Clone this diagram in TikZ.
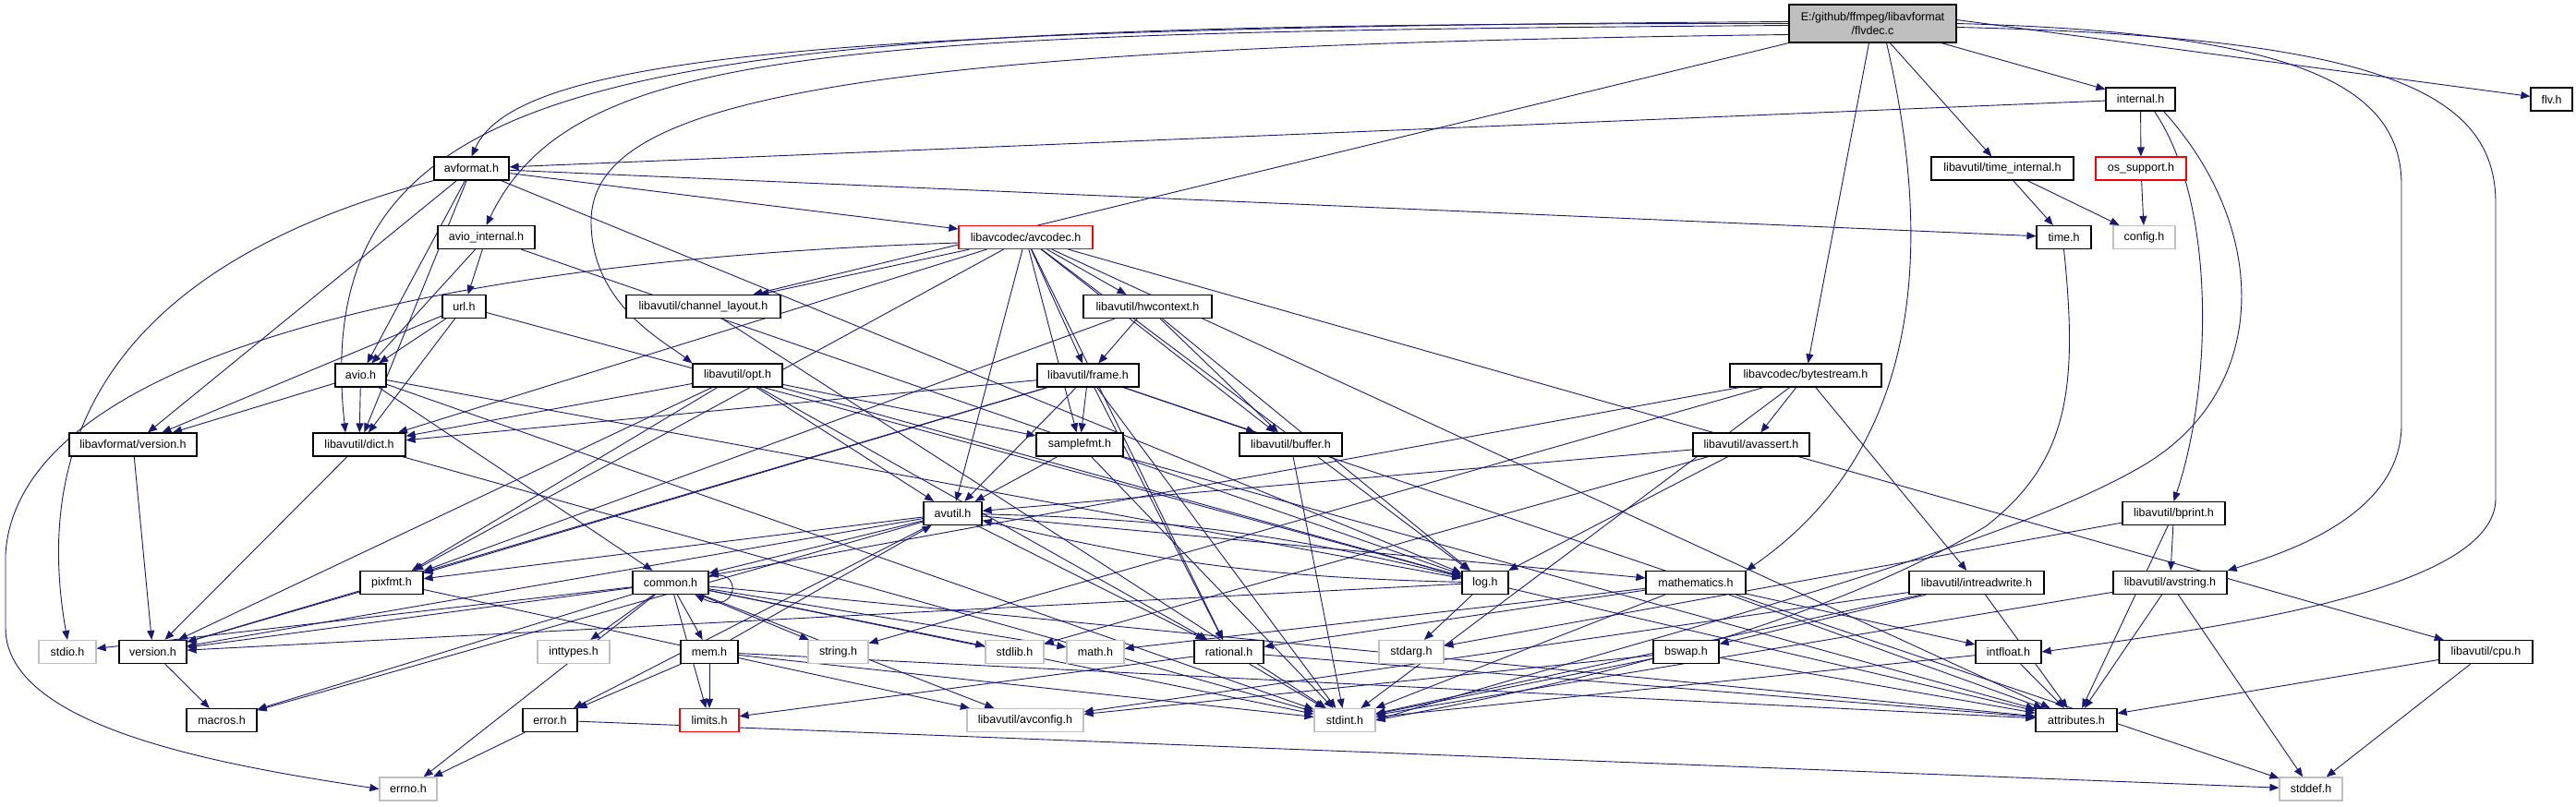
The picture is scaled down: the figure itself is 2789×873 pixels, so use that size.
\documentclass[tikz,border=0pt]{standalone}
\usepackage{fontspec}
\setmainfont{Liberation Sans}
\usetikzlibrary{arrows.meta}
\pgfdeclarelayer{bg}
\pgfdeclarelayer{edges}
\pgfsetlayers{bg,edges,main}
\definecolor{edgec}{HTML}{191970}
\definecolor{sysgrey}{HTML}{BFBFBF}
\definecolor{rootfill}{HTML}{BFBFBF}
\begin{document}
\begin{tikzpicture}[x=1pt,y=1pt,
  hdr/.style={draw=black,line width=1.2pt,fill=white,minimum height=25pt,inner sep=0pt,font=\fontsize{12.5}{15}\selectfont},
  syshdr/.style={hdr,draw=sysgrey},
  trunchdr/.style={hdr,draw=red},
  roothdr/.style={hdr,fill=rootfill,minimum height=41pt,align=center,font=\fontsize{12.5}{15.5}\selectfont},
  dep/.style={draw=edgec,line width=0.9pt,-{Triangle[length=10pt,width=8pt]}}]
\useasboundingbox (0,0) rectangle (2789,-873);
\begin{pgfonlayer}{bg}
\fill[white] (0,0) rectangle (2789,-873);
\end{pgfonlayer}
% nodes
\node[roothdr,minimum width=181pt] (flvdec) at (2027.5,-25.5) {E:/github/ffmpeg/libavformat\\/flvdec.c};
\node[hdr,minimum width=45pt] (flv) at (2762.5,-107.5) {flv.h};
\node[hdr,minimum width=75pt] (internal) at (2317.5,-107.5) {internal.h};
\node[hdr,minimum width=81pt] (avformat) at (510.5,-182.5) {avformat.h};
\node[hdr,minimum width=154pt] (timeint) at (2168,-182.5) {libavutil/time\_internal.h};
\node[trunchdr,minimum width=98pt] (ossup) at (2318,-182.5) {os\_support.h};
\node[hdr,minimum width=105pt] (avioint) at (526.5,-257) {avio\_internal.h};
\node[trunchdr,minimum width=145pt] (avcodec) at (1110.5,-257) {libavcodec/avcodec.h};
\node[hdr,minimum width=59pt] (timeh) at (2234.5,-257) {time.h};
\node[syshdr,minimum width=67pt] (config) at (2321.5,-257) {config.h};
\node[hdr,minimum width=47pt] (url) at (502.5,-332) {url.h};
\node[hdr,minimum width=167pt] (chlayout) at (761.5,-332) {libavutil/channel\_layout.h};
\node[hdr,minimum width=139pt] (hwctx) at (1242.5,-332) {libavutil/hwcontext.h};
\node[hdr,minimum width=55pt] (avio) at (390.5,-406.5) {avio.h};
\node[hdr,minimum width=97pt] (opt) at (798.5,-406.5) {libavutil/opt.h};
\node[hdr,minimum width=110pt] (frame) at (1178,-406.5) {libavutil/frame.h};
\node[hdr,minimum width=164pt] (bytestream) at (1955,-406.5) {libavcodec/bytestream.h};
\node[hdr,minimum width=138pt] (lfversion) at (144,-481.5) {libavformat/version.h};
\node[hdr,minimum width=100pt] (dict) at (389,-481.5) {libavutil/dict.h};
\node[hdr,minimum width=94pt] (samplefmt) at (1169,-481.5) {samplefmt.h};
\node[hdr,minimum width=111pt] (buffer) at (1397.5,-481.5) {libavutil/buffer.h};
\node[hdr,minimum width=126pt] (avassert) at (1896,-481.5) {libavutil/avassert.h};
\node[hdr,minimum width=63pt] (avutil) at (1031.5,-556) {avutil.h};
\node[hdr,minimum width=111pt] (bprint) at (2353.5,-556) {libavutil/bprint.h};
\node[hdr,minimum width=68pt] (pixfmt) at (424,-631) {pixfmt.h};
\node[hdr,minimum width=82pt] (common) at (726,-631) {common.h};
\node[hdr,minimum width=50pt] (log) at (1608,-631) {log.h};
\node[hdr,minimum width=108pt] (mathematics) at (1836,-631) {mathematics.h};
\node[hdr,minimum width=146pt] (intrw) at (2140,-631) {libavutil/intreadwrite.h};
\node[hdr,minimum width=123pt] (avstring) at (2349.5,-631) {libavutil/avstring.h};
\node[syshdr,minimum width=62pt] (stdio) at (73,-706) {stdio.h};
\node[hdr,minimum width=73pt] (version) at (165.5,-706) {version.h};
\node[syshdr,minimum width=78pt] (inttypes) at (621,-706) {inttypes.h};
\node[hdr,minimum width=62pt] (mem) at (768,-706) {mem.h};
\node[syshdr,minimum width=65pt] (stringh) at (907.5,-706) {string.h};
\node[syshdr,minimum width=63pt] (stdlib) at (1098.5,-706) {stdlib.h};
\node[syshdr,minimum width=62pt] (math) at (1186,-706) {math.h};
\node[hdr,minimum width=75pt] (rational) at (1330.5,-706) {rational.h};
\node[syshdr,minimum width=70pt] (stdarg) at (1528,-706) {stdarg.h};
\node[hdr,minimum width=71pt] (bswap) at (1825.5,-706) {bswap.h};
\node[hdr,minimum width=71pt] (intfloat) at (2174.5,-706) {intfloat.h};
\node[hdr,minimum width=101pt] (cpu) at (2691.5,-706) {libavutil/cpu.h};
\node[hdr,minimum width=76pt] (macros) at (240,-780) {macros.h};
\node[hdr,minimum width=59pt] (error) at (595.5,-780) {error.h};
\node[trunchdr,minimum width=64pt] (limits) at (768,-780) {limits.h};
\node[syshdr,minimum width=126pt] (avconfig) at (1110,-780) {libavutil/avconfig.h};
\node[syshdr,minimum width=66pt] (stdint) at (1456,-780) {stdint.h};
\node[hdr,minimum width=88pt] (attributes) at (2248,-780) {attributes.h};
\node[syshdr,minimum width=62pt] (errno) at (442,-854.5) {errno.h};
\node[syshdr,minimum width=68pt] (stddef) at (2502,-854.5) {stddef.h};
% edges
\begin{pgfonlayer}{edges}
\foreach \s/\t in {flvdec/timeint, flvdec/internal, flvdec/bytestream,
 internal/avformat, internal/ossup,
 timeint/timeh, timeint/config, ossup/config,
 avformat/timeh, avformat/avcodec, avformat/dict, avformat/log, avformat/avio, avformat/lfversion,
 avioint/avio, avioint/url, avioint/log,
 url/avio, url/lfversion, url/dict, url/log,
 avio/stdint, avio/common, avio/dict, avio/log, avio/lfversion,
 lfversion/version, dict/stdint, dict/version, version/macros,
 avcodec/samplefmt, avcodec/attributes, avcodec/avutil, avcodec/buffer, avcodec/cpu, avcodec/chlayout, avcodec/dict, avcodec/frame, avcodec/hwctx, avcodec/log, avcodec/pixfmt, avcodec/rational,
 chlayout/stdint,
 hwctx/buffer, hwctx/frame, hwctx/log, hwctx/pixfmt,
 opt/rational, opt/avutil, opt/dict, opt/log, opt/pixfmt, opt/samplefmt, opt/version,
 frame/stddef, frame/stdint, frame/avutil, frame/buffer, frame/dict, frame/rational, frame/samplefmt, frame/pixfmt, frame/version,
 samplefmt/stdint, samplefmt/avutil, samplefmt/attributes,
 buffer/stdint,
 avutil/common, avutil/error, avutil/rational, avutil/version, avutil/macros, avutil/mathematics, avutil/pixfmt,
 common/errno, common/inttypes, common/limits, common/math, common/stdint, common/stdio, common/stdlib, common/stringh, common/attributes, common/macros, common/version, common/avconfig, common/mem,
 mem/limits, mem/stdint, mem/attributes, mem/error, mem/avutil,
 error/errno, error/stddef,
 rational/stdint, rational/limits, rational/attributes,
 mathematics/stdint, mathematics/math, mathematics/attributes, mathematics/rational, mathematics/intfloat,
 intfloat/stdint, intfloat/attributes,
 log/stdarg, log/attributes, log/version,
 pixfmt/avconfig, pixfmt/version,
 cpu/stddef, cpu/attributes,
 avassert/stdlib, avassert/avutil, avassert/log,
 bytestream/stdint, bytestream/stringh, bytestream/avassert, bytestream/common, bytestream/intrw,
 intrw/stdint, intrw/avconfig, intrw/attributes, intrw/bswap,
 bswap/stdint, bswap/avconfig, bswap/attributes,
 bprint/stdarg, bprint/attributes, bprint/avstring,
 avstring/stddef, avstring/stdint, avstring/attributes}
 \draw[dep] (\s) -- (\t);
% curved edges
\draw[dep] ([yshift=4pt]flvdec.east) -- (flv);
\draw[dep] (flvdec.south west) -- (chlayout);
\draw[dep] ([yshift=2pt]flvdec.west) .. controls (900,-30) and (560,-60) .. (avformat.north);
\draw[dep] ([yshift=-2pt]flvdec.west) .. controls (900,-35) and (620,-50) .. (avioint.north);
\draw[dep] (flvdec.west) .. controls (700,-25) and (330,-60) .. ([xshift=-15pt]dict.north);
\draw[dep] ([yshift=-12pt]flvdec.west) .. controls (900,-50) and (640,-110) .. (640,-240) .. controls (640,-330) and (720,-370) .. (opt.north west);
\draw[dep] ([xshift=15pt]flvdec.south) .. controls (2090,-250) and (2090,-480) .. (mathematics.north east);
\draw[dep] (flvdec.east) .. controls (2480,-35) and (2600,-90) .. (2600,-200) -- (2600,-460) .. controls (2600,-560) and (2470,-600) .. (avstring.north east);
\draw[dep] ([yshift=-4pt]flvdec.east) .. controls (2580,-40) and (2702,-100) .. (2702,-220) -- (2702,-540) .. controls (2702,-640) and (2400,-680) .. (intfloat.east);
\draw[dep] ([xshift=15pt]internal.south) .. controls (2400,-220) and (2395,-420) .. (bprint.north);
\draw[dep] ([xshift=25pt]internal.south) .. controls (2460,-250) and (2460,-430) .. (2310,-510) .. controls (2150,-600) and (1750,-700) .. (stdint.east);
\draw[dep] (timeh.south) .. controls (2250,-420) and (2240,-500) .. (2150,-570) .. controls (1950,-690) and (1650,-750) .. (stdint.east);
\draw[dep] ([yshift=-6pt]avcodec.west) .. controls (500,-280) and (20,-380) .. (6,-600) -- (6,-680) .. controls (6,-790) and (250,-830) .. (errno.west);
\draw[dep] (avformat.south west) .. controls (150,-280) and (30,-450) .. (stdio.north);
\draw[dep] ([yshift=6pt]common.east) .. controls (805,-612) and (800,-668) .. ([xshift=-15pt]common.south east);
\draw[dep] (avutil) to[bend left=6] (log);
\draw[dep] (log) to[bend left=6] (avutil);
\end{pgfonlayer}
\end{tikzpicture}
\end{document}
